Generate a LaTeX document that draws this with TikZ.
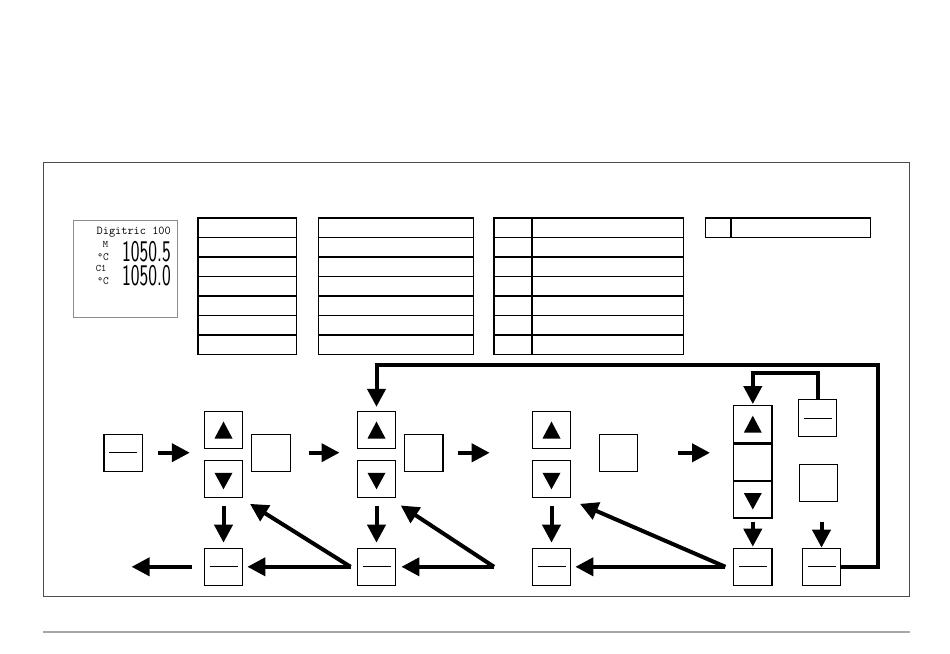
\documentclass[tikz,border=0pt]{standalone}
\usepackage{amsmath,amsfonts,amssymb}
\usepackage{tikz}
\usepackage{xcolor}
\usetikzlibrary{arrows.meta}

\begin{document}
\begin{tikzpicture}[x=1pt, y=-1pt,
    key/.style={draw, line width=1.3pt, minimum width=38.5pt, minimum height=37pt, inner sep=0pt},
    upkey/.style={key, path picture={\fill ([xshift=-9pt,yshift=-8.5pt]path picture bounding box.center) -- ++(18pt,0pt) -- ++(-9pt,17pt) -- cycle;}},
    downkey/.style={key, path picture={\fill ([xshift=-9pt,yshift=6.5pt]path picture bounding box.center) -- ++(18pt,0pt) -- ++(-9pt,-16.5pt) -- cycle;}},
    dashkey/.style={key, path picture={\draw[line width=0.9pt] ([xshift=-14pt]path picture bounding box.center) -- ([xshift=14pt]path picture bounding box.center);}},
    flow/.style={line width=4pt, -{Triangle[length=18pt,width=18pt]}},
    tab/.style={line width=1.4pt},
    lcd/.style={anchor=base east, inner sep=0pt, font=\fontsize{20}{20}\selectfont\sffamily}]
    \useasboundingbox (0,0) rectangle (950,653);

    \draw[black!70, line width=1pt] (43,162) rectangle (909,596.5);
    \draw[black!35, line width=2pt] (43,632) -- (910,632);

    % display
    \draw[black!45, line width=0.9pt] (73.3,220) rectangle (177.3,317.7);
    \node[anchor=base east, inner sep=0pt, font=\fontsize{12}{12}\selectfont\ttfamily] (dname) at (171,234) {Digitric 100};
    \node[anchor=base, inner sep=0pt, font=\fontsize{10}{10}\selectfont\ttfamily] (mlab) at (105.5,247.7) {M};
    \node[anchor=base east, inner sep=0pt, font=\fontsize{11}{11}\selectfont\ttfamily] (unit1) at (109,260) {\textdegree C};
    \node[anchor=base, inner sep=0pt, font=\fontsize{10}{10}\selectfont\ttfamily] (clab) at (101,271.7) {C1};
    \node[anchor=base east, inner sep=0pt, font=\fontsize{11}{11}\selectfont\ttfamily] (unit2) at (109,284) {\textdegree C};
    \node[lcd] (val1) at (171,261) {\scalebox{0.93}[1.5]{1050.5}};
    \node[lcd] (val2) at (171,285.7) {\scalebox{0.93}[1.5]{1050.0}};

    % tables
    \draw[tab] (198,217.8) rectangle (296.5,354.65);
    \draw[tab] (318.3,217.8) rectangle (473.7,354.65);
    \draw[tab] (494,217.8) rectangle (683.3,354.65);
    \draw[tab] (532,217.8) -- (532,354.65);
    \foreach \y in {237.35,256.9,276.45,296,315.55,335.1} {
        \draw[tab] (198,\y) -- (296.5,\y);
        \draw[tab] (318.3,\y) -- (473.7,\y);
        \draw[tab] (494,\y) -- (683.3,\y);
    }
    \draw[tab] (705.7,217.8) rectangle (870.7,237.35);
    \draw[tab] (731,217.8) -- (731,237.35);

    % keys
    \node[dashkey] (start) at (123.3,452.7) {};
    \node[upkey] (up1) at (223.5,430) {};
    \node[downkey] (dn1) at (223.5,479.3) {};
    \node[key] (sel1) at (271,452.7) {};
    \node[dashkey] (bot1) at (223.5,566.8) {};
    \node[upkey] (up2) at (376.5,430) {};
    \node[downkey] (dn2) at (376.5,479.3) {};
    \node[key] (sel2) at (423.8,452.8) {};
    \node[dashkey] (bot2) at (376.5,566.8) {};
    \node[upkey] (up3) at (551.5,430) {};
    \node[downkey] (dn3) at (551.5,479.3) {};
    \node[key] (sel3) at (618.5,452.8) {};
    \node[dashkey] (bot3) at (551.5,566.8) {};
    \node[upkey] (up4) at (752.8,424.2) {};
    \node[key] (mid4) at (752.8,462.5) {};
    \node[downkey] (dn4) at (752.8,499.5) {};
    \node[dashkey] (bot4) at (752.8,566.8) {};
    \node[dashkey] (top5) at (817.5,418) {};
    \node[key] (sel5) at (818.5,482.7) {};
    \node[dashkey] (bot5) at (821.5,566.8) {};

    \coordinate (j2) at ([xshift=-6pt]bot2.west);
    \coordinate (j3) at (494,566.8);
    \coordinate (j4) at ([xshift=-7.5pt]bot4.west);
    \coordinate (corner) at (878.3,364.7);

    % arrows
    \draw[flow] ([xshift=15pt]start.east) -- ++(31.6pt,0pt);
    \draw[flow] ([xshift=17.6pt]sel1.east) -- ++(31pt,0pt);
    \draw[flow] ([xshift=14pt]sel2.east) -- ++(32pt,0pt);
    \draw[flow] ([xshift=39.6pt]sel3.east) -- ++(32pt,0pt);

    \foreach \c in {1,2,3}
        \draw[flow, shorten <=8pt, shorten >=5pt] (dn\c.south) -- (bot\c.north);
    \draw[flow, shorten <=3pt, shorten >=1pt] (dn4.south) -- (bot4.north);
    \draw[flow] ([yshift=26pt]bot5.north) -- (bot5.north);

    \draw[flow] ([xshift=-12pt]bot1.west) -- ++(-60pt,0pt);
    \draw[flow, shorten >=4pt] (j2) -- (bot1.east);
    \draw[flow] (j2) -- ([xshift=6.6pt,yshift=-5.4pt]dn1.south east);
    \draw[flow, shorten >=5pt] (j3) -- (bot2.east);
    \draw[flow] (j3) -- ([xshift=4.3pt,yshift=-7pt]dn2.south east);
    \draw[flow, shorten >=4pt] (j4) -- (bot3.east);
    \draw[flow] (j4) -- ([xshift=8.6pt,yshift=-5.4pt]dn3.south east);

    \draw[flow, shorten >=1pt] (top5.north) -- ++(0pt,25.7pt) -| (up4.north);
    \draw[flow, shorten >=4pt] (bot5.east) -| (corner) -| (up2.north);
\end{tikzpicture}
\end{document}
